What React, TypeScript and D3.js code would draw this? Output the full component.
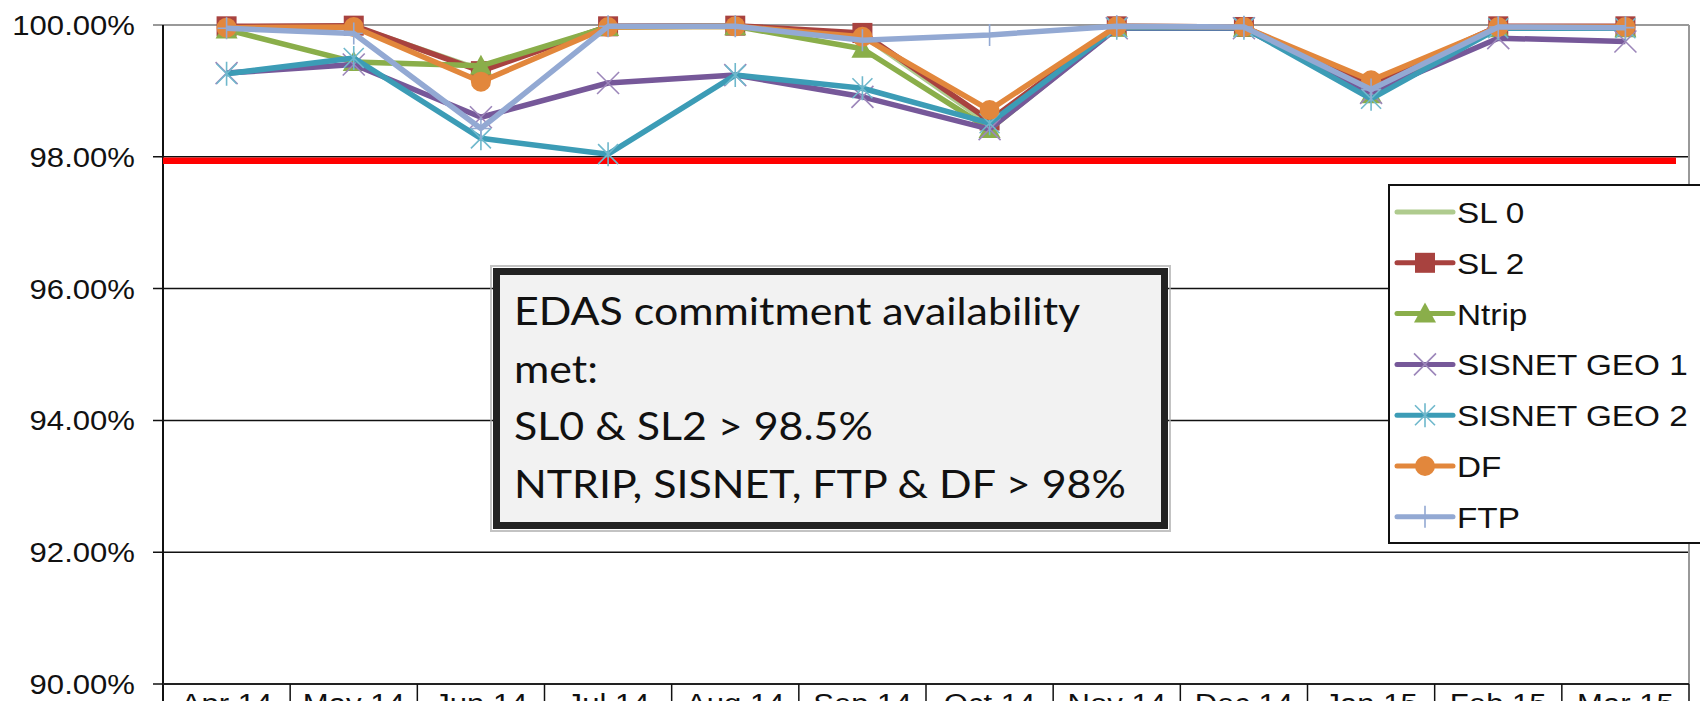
import React from 'react';
import * as d3 from 'd3';

const WIDTH = 1700;
const HEIGHT = 701;
const PLOT = { left: 163, right: 1689, top: 25, bottom: 684 };

const MONTHS = ['Apr 14', 'May 14', 'Jun 14', 'Jul 14', 'Aug 14', 'Sep 14', 'Oct 14', 'Nov 14', 'Dec 14', 'Jan 15', 'Feb 15', 'Mar 15'];
const Y_TICKS = [90, 92, 94, 96, 98, 100];
const TARGET = 97.94;

const SL0 = [99.97, 99.98, 99.32, 99.98, 99.98, 99.85, 98.5, 99.97, 99.97, 99.05, 99.97, 99.97];
const SL2 = [99.98, 99.99, 99.3, 99.98, 99.99, 99.88, 98.55, 99.98, 99.97, 99.1, 99.98, 99.98];
const NTRIP = [99.93, 99.44, 99.38, 99.97, 99.98, 99.64, 98.42, 99.96, 99.96, 98.95, 99.95, 99.95];
const SISNET1 = [99.27, 99.4, 98.6, 99.12, 99.24, 98.91, 98.42, 99.95, 99.95, 98.97, 99.8, 99.75];
const SISNET2 = [99.26, 99.5, 98.28, 98.04, 99.24, 99.04, 98.51, 99.96, 99.96, 98.88, 99.95, 99.95];
const DF = [99.96, 99.97, 99.14, 99.97, 99.98, 99.82, 98.71, 99.98, 99.97, 99.16, 99.97, 99.97];
const FTP = [99.95, 99.87, 98.43, 99.98, 99.98, 99.77, 99.85, 99.98, 99.97, 99.02, 99.97, 99.96];

const NOTE_LINES = ['EDAS commitment availability', 'met:', 'SL0 & SL2 > 98.5%', 'NTRIP, SISNET, FTP & DF > 98%'];

type Marker = 'none' | 'square' | 'triangle' | 'x' | 'star' | 'circle' | 'plus';

const SERIES: { name: string; values: number[]; color: string; markColor: string; marker: Marker }[] = [
  { name: 'SL 0', values: SL0, color: '#AFCB8E', markColor: '#AFCB8E', marker: 'none' },
  { name: 'SL 2', values: SL2, color: '#A8423F', markColor: '#A8423F', marker: 'square' },
  { name: 'Ntrip', values: NTRIP, color: '#8AAE4A', markColor: '#8AAE4A', marker: 'triangle' },
  { name: 'SISNET GEO 1', values: SISNET1, color: '#765899', markColor: '#9C86BA', marker: 'x' },
  { name: 'SISNET GEO 2', values: SISNET2, color: '#3C9CB6', markColor: '#6FB8CC', marker: 'star' },
  { name: 'DF', values: DF, color: '#E2873C', markColor: '#E2873C', marker: 'circle' },
  { name: 'FTP', values: FTP, color: '#93A9D3', markColor: '#93A9D3', marker: 'plus' },
];

function MarkerShape({ type, cx, cy, color }: { type: Marker; cx: number; cy: number; color: string }) {
  const s = 10;
  switch (type) {
    case 'square':
      return <rect x={cx - s} y={cy - s} width={2 * s} height={2 * s} fill={color} />;
    case 'triangle':
      return <path d={`M${cx},${cy - s - 1}L${cx + s + 1},${cy + s - 1}L${cx - s - 1},${cy + s - 1}Z`} fill={color} />;
    case 'circle':
      return <circle cx={cx} cy={cy} r={s} fill={color} />;
    case 'x':
      return (
        <path d={`M${cx - 11},${cy - 11}L${cx + 11},${cy + 11}M${cx - 11},${cy + 11}L${cx + 11},${cy - 11}`} stroke={color} strokeWidth={1.6} />
      );
    case 'star':
      return (
        <path
          d={`M${cx - 10},${cy - 10}L${cx + 10},${cy + 10}M${cx - 10},${cy + 10}L${cx + 10},${cy - 10}M${cx},${cy - 12}L${cx},${cy + 12}`}
          stroke={color}
          strokeWidth={1.6}
        />
      );
    case 'plus':
      return <path d={`M${cx},${cy - 11}L${cx},${cy + 11}M${cx - 9},${cy}L${cx + 9},${cy}`} stroke={color} strokeWidth={1.6} />;
    default:
      return null;
  }
}

// text drawn slightly wider, like the stretched original
function WideText({ x, y, anchor, size, children }: { x: number; y: number; anchor: string; size: number; children: React.ReactNode }) {
  return (
    <text
      transform={`translate(${x},${y}) scale(1.11,1)`}
      textAnchor={anchor}
      fontFamily="'Liberation Sans', Arial, sans-serif"
      fontSize={size}
      fill="#111"
    >
      {children}
    </text>
  );
}

export default function App() {
  const x = d3.scaleBand<string>().domain(MONTHS).range([PLOT.left, PLOT.right]);
  const y = d3.scaleLinear().domain([90, 100]).range([PLOT.bottom, PLOT.top]);
  const cx = (m: string) => (x(m) ?? 0) + x.bandwidth() / 2;
  const line = d3
    .line<number>()
    .x((_, i) => cx(MONTHS[i]))
    .y((d) => y(d));

  const legend = { x: 1389, y: 185, w: 340, h: 358, row: 50.8 };
  const note = { x: 493, y: 268, w: 675, h: 261 };

  return (
    <div style={{ position: 'absolute', left: 0, top: 0 }}>
      <svg width={WIDTH} height={HEIGHT} style={{ display: 'block', background: '#fff' }}>
        {/* gridlines */}
        {Y_TICKS.map((t) => (
          <line
            key={t}
            x1={PLOT.left - 10}
            x2={PLOT.right}
            y1={y(t)}
            y2={y(t)}
            stroke={t === 100 ? '#999' : '#111'}
            strokeWidth={t === 100 ? 2 : 1.5}
          />
        ))}
        <line x1={PLOT.right} x2={PLOT.right} y1={PLOT.top} y2={PLOT.bottom} stroke="#999" strokeWidth={2} />
        <line x1={PLOT.left} x2={PLOT.left} y1={PLOT.top} y2={HEIGHT} stroke="#111" strokeWidth={2} />
        <line x1={PLOT.left} x2={PLOT.right} y1={PLOT.bottom} y2={PLOT.bottom} stroke="#222" strokeWidth={2} />

        {/* category separators */}
        {MONTHS.map((m) => (
          <line key={m} x1={(x(m) ?? 0) + x.bandwidth()} x2={(x(m) ?? 0) + x.bandwidth()} y1={PLOT.bottom} y2={HEIGHT} stroke="#111" strokeWidth={1.5} />
        ))}

        {/* y labels */}
        {Y_TICKS.map((t) => (
          <WideText key={t} x={135} y={y(t) + 10} anchor="end" size={28}>
            {d3.format('.2f')(t)}%
          </WideText>
        ))}

        {/* x labels (cut by the bottom edge, as in the original) */}
        {MONTHS.map((m) => (
          <WideText key={m} x={cx(m)} y={713} anchor="middle" size={28}>
            {m}
          </WideText>
        ))}

        {/* target line */}
        <line x1={PLOT.left} x2={PLOT.right - 13} y1={y(TARGET)} y2={y(TARGET)} stroke="#FF0000" strokeWidth={6.5} />

        {/* series */}
        {SERIES.map((s) => (
          <g key={s.name}>
            <path d={line(s.values) ?? ''} fill="none" stroke={s.color} strokeWidth={5.5} strokeLinejoin="round" />
            {s.values.map((v, i) => (
              <MarkerShape key={i} type={s.marker} cx={cx(MONTHS[i])} cy={y(v)} color={s.markColor} />
            ))}
          </g>
        ))}

        {/* note box */}
        <rect x={note.x - 2} y={note.y - 2} width={note.w + 4} height={note.h + 4} fill="none" stroke="#aaa" strokeWidth={2} opacity={0.7} />
        <rect x={note.x + 3.5} y={note.y + 3.5} width={note.w - 7} height={note.h - 7} fill="#F2F2F2" stroke="#222" strokeWidth={7} />
        {NOTE_LINES.map((t, i) => (
          <text
            key={t}
            transform={`translate(514,${325 + i * 57.5}) scale(1.1,1)`}
            fontFamily="Lato, 'Open Sans', sans-serif"
            fontSize={39}
            fill="#111"
          >
            {t}
          </text>
        ))}

        {/* legend */}
        <rect x={legend.x} y={legend.y} width={legend.w} height={legend.h} fill="#fff" stroke="#111" strokeWidth={2} />
        {SERIES.map((s, i) => {
          const ry = 212 + i * legend.row;
          return (
            <g key={s.name}>
              <line x1={1397} x2={1453} y1={ry} y2={ry} stroke={s.color} strokeWidth={5} strokeLinecap="round" />
              <MarkerShape type={s.marker} cx={1425} cy={ry} color={s.markColor} />
              <WideText x={1457} y={ry + 11} anchor="start" size={30}>
                {s.name}
              </WideText>
            </g>
          );
        })}
      </svg>
    </div>
  );
}
